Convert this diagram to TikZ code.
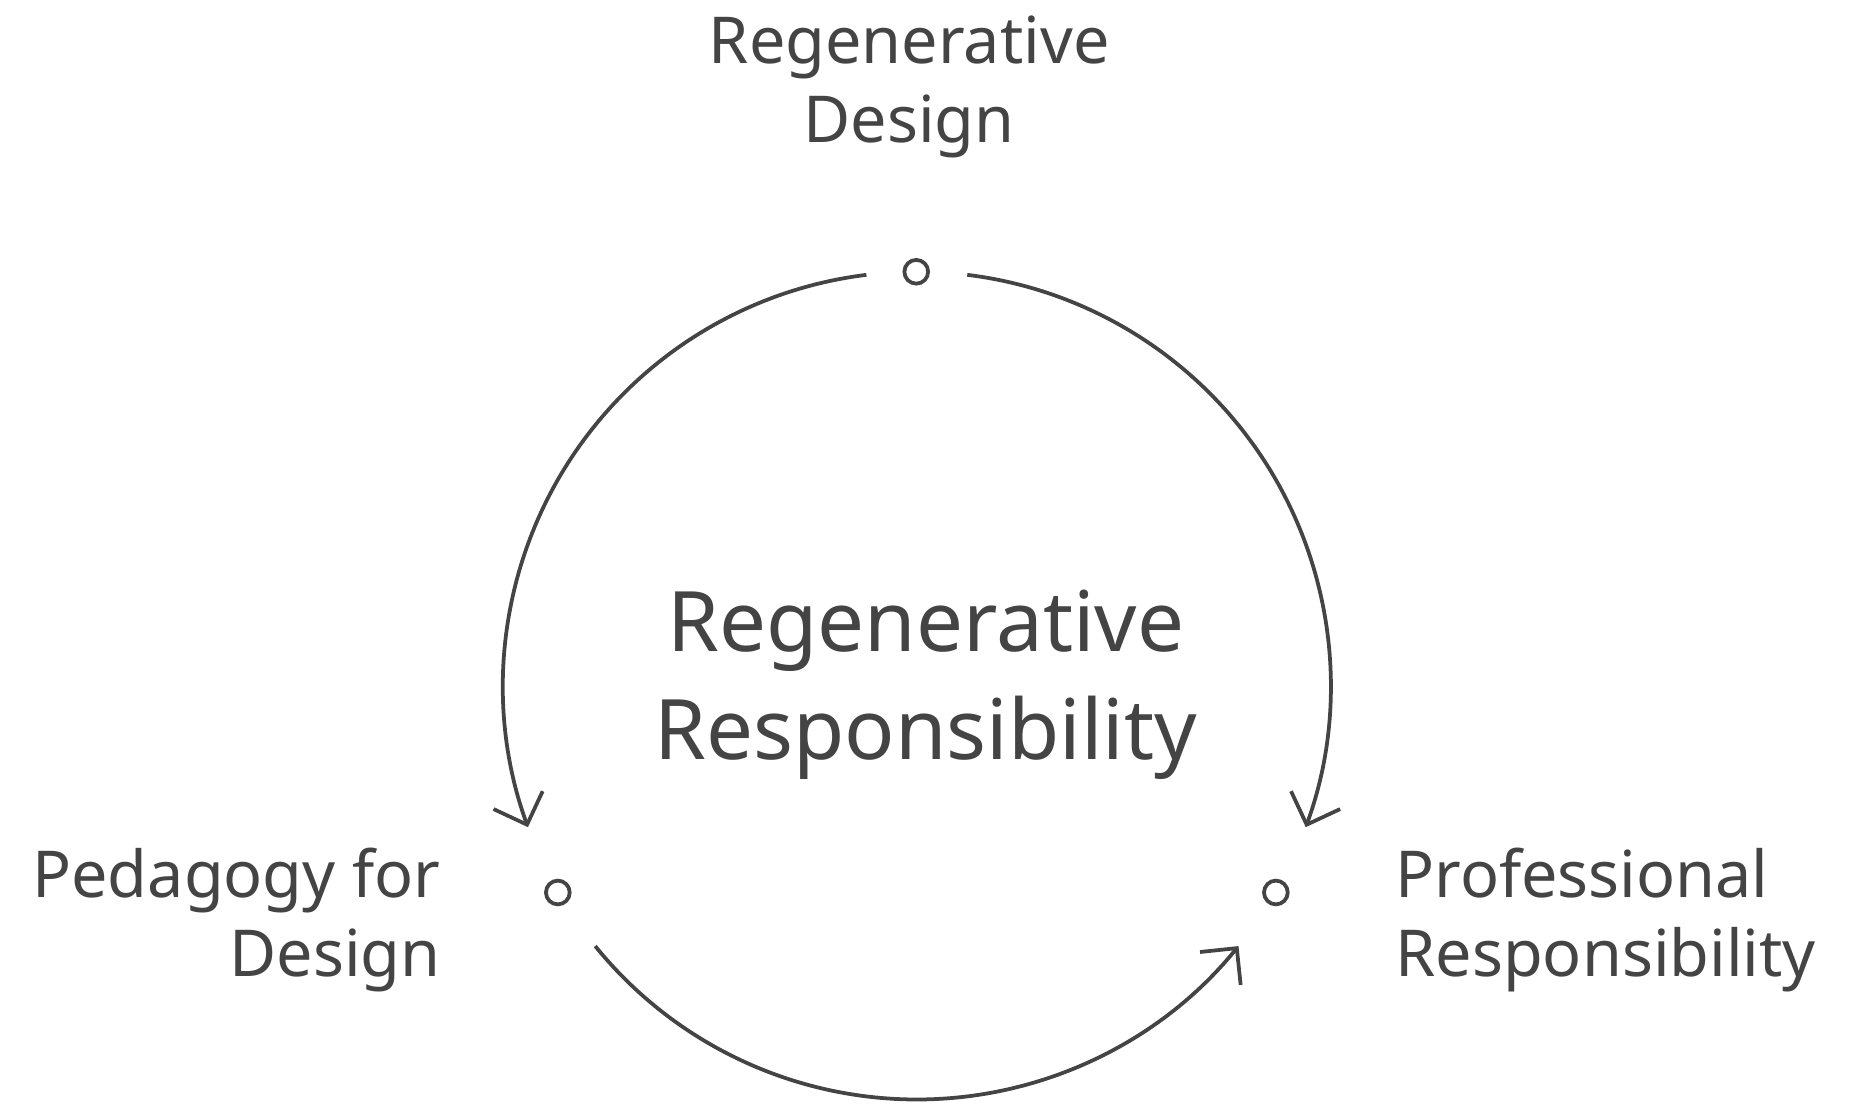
\documentclass[tikz,border=0pt]{standalone}
\usepackage{fontspec}
\setmainfont{Noto Sans}
\usetikzlibrary{arrows.meta,calc}
\definecolor{ink}{HTML}{444444}
\begin{document}
\begin{tikzpicture}[x=0.01cm,y=0.01cm,
  dot/.style={circle,draw=ink,line width=0.9pt,inner sep=0pt,minimum size=0.2cm},
  arc/.style={draw=ink,line width=0.9pt,-{Straight Barb[length=0.22cm,width=0.44cm,line width=0.9pt]}},
  lbl/.style={text=ink,font=\fontsize{15.5}{19}\selectfont,inner sep=0pt}]
\useasboundingbox (0,0) rectangle (1568,937);
\coordinate (c) at (772.5,359.3);
\node[dot] (top) at (772,708) {};
\node[dot] (left) at (470,185) {};
\node[dot] (right) at (1075,185) {};
\draw[arc] ($(c)+(97:348.7)$) arc[start angle=97,end angle=200,radius=348.7];
\draw[arc] ($(c)+(83:348.7)$) arc[start angle=83,end angle=-20,radius=348.7];
\draw[arc] ($(c)+(219:348.7)$) arc[start angle=219,end angle=321,radius=348.7];
\node[lbl,align=center,anchor=south] (tl) at (766,803) {Regenerative\\Design};
\node[lbl,align=right,anchor=east] (ll) at (372,162) {Pedagogy for\\Design};
\node[lbl,align=left,anchor=west] (rl) at (1175,162) {Professional\\Responsibility};
\node[text=ink,font=\bfseries\fontsize{20}{26}\selectfont,align=center,inner sep=0pt] (mid) at (780,360) {Regenerative\\Responsibility};
\end{tikzpicture}
\end{document}
